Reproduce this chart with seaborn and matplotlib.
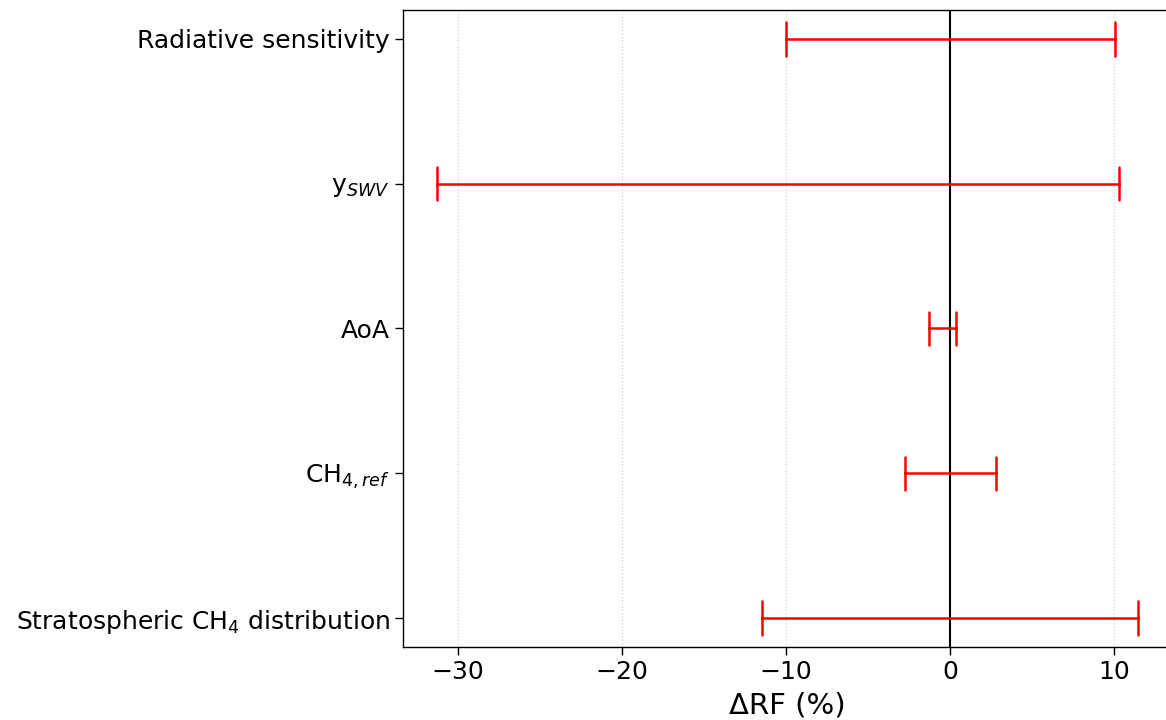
import matplotlib
matplotlib.use("Agg")
import matplotlib.pyplot as plt
import seaborn as sns
import pandas as pd

categories = ["Radiative sensitivity", "y$_{SWV}$", "AoA", "CH$_{4,ref}$",
              "Stratospheric CH$_4$ distribution"]
low = [-10.0, -31.3, -1.3, -2.75, -11.45]
high = [10.05, 10.3, 0.35, 2.8, 11.45]
xticks = [-30, -20, -10, 0, 10]

rows = []
for c, lo, hi in zip(categories, low, high):
    rows.append({"cat": c, "val": lo})
    rows.append({"cat": c, "val": hi})
df = pd.DataFrame(rows)

sns.set_style("white")
plt.rcParams["font.family"] = ["DejaVu Sans"]
plt.rcParams["text.color"] = "black"
plt.rcParams["xtick.color"] = "black"
plt.rcParams["ytick.color"] = "black"
plt.rcParams["axes.labelcolor"] = "black"

fig = plt.figure(figsize=(11.66, 7.2), dpi=100)
ax = fig.add_axes([0.3456, 0.1014, 0.66, 0.8847])

ax.grid(axis="x", linestyle=":", color="lightgray", linewidth=0.9, zorder=0)
ax.set_axisbelow(True)
ax.axvline(0, color="black", linewidth=1.5, zorder=1)

sns.pointplot(data=df, x="val", y="cat", order=categories,
              estimator="mean", errorbar=lambda v: (v.min(), v.max()),
              linestyle="none", marker="", color="red", capsize=0.23,
              err_kws={"linewidth": 1.8}, ax=ax, zorder=3)

ax.set_xlim(-33.35, 13.57)
ax.set_ylim(4.2, -0.2)
ax.set_xticks(xticks)
ax.set_xticklabels([f"{t}".replace("-", "\u2212") for t in xticks])
ax.tick_params(axis="both", labelsize=18, length=6, width=1, direction="out",
               bottom=True, left=True, color="black", labelcolor="black")
ax.set_xlabel("\u0394RF (%)", fontsize=21, color="black", labelpad=5)
ax.set_ylabel("")
for s in ax.spines.values():
    s.set_color("black")
    s.set_linewidth(1.0)

fig.savefig("out.png", dpi=100)
